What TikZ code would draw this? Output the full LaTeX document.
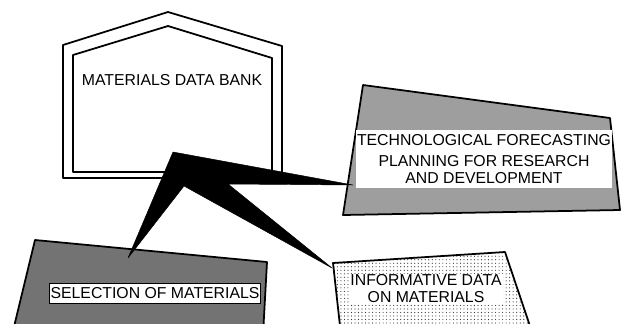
\documentclass[tikz,border=0pt]{standalone}
\usepackage{fontspec}
\setmainfont{Liberation Sans}
\usetikzlibrary{positioning,patterns}
\tikzset{
	outline/.style={draw=black, line width=1.5pt, line join=round},
	bankbox/.style={outline, fill=white},
	techbox/.style={outline, fill=black!38},
	selbox/.style={outline, fill=black!55},
	infobox/.style={outline, pattern=dots, pattern color=black!80},
	label/.style={inner sep=1pt, align=center,
		font=\fontsize{13.5}{14.5}\selectfont},
	band/.style={label, fill=white},
	spoke/.style={fill=black, draw=black, line join=round},
}

\begin{document}
\begin{tikzpicture}[x=0.03cm, y=-0.03cm]
\useasboundingbox (0,0) rectangle (627,323);

% data bank, double outline
\draw[bankbox] (63,178) -- (63,45) -- (168,12) -- (282,46) -- (282,178) -- cycle;
\draw[outline] (73,172) -- (73,55) -- (168,26) -- (272,58) -- (272,172) -- cycle;
\node[label] (bank) at (172,80) {MATERIALS DATA BANK};

% forecasting
\draw[techbox] (363,85) -- (610,118) -- (620,210) -- (343,215) -- cycle;
\node[band, minimum width=7.45cm, minimum height=1.74cm] (tech) at (484,159)
	{TECHNOLOGICAL FORECASTING\\[4pt]PLANNING FOR RESEARCH\\AND DEVELOPMENT};

% selection
\draw[selbox] (35,240) -- (267,262) -- (263,335) -- (12,335) -- cycle;
\node[band, draw=black, thick, minimum width=6.33cm, minimum height=0.6cm] (sel) at (155,293)
	{SELECTION OF MATERIALS};

% informative data
\draw[infobox] (333,263) -- (505,252) -- (533,335) -- (341,335) -- cycle;
\node[band] (info) at (426,289) {INFORMATIVE DATA\\ON MATERIALS};

% black spokes out of the bank
\coordinate (hub) at (173,152);
\coordinate (tipT) at (353,185);
\coordinate (tipI) at (332,268);
\coordinate (tipS) at (128,258);
\draw[spoke] (hub) -- (tipT) -- (228,184) -- (tipI) -- (184,186) -- (tipS) -- cycle;

\end{tikzpicture}
\end{document}
